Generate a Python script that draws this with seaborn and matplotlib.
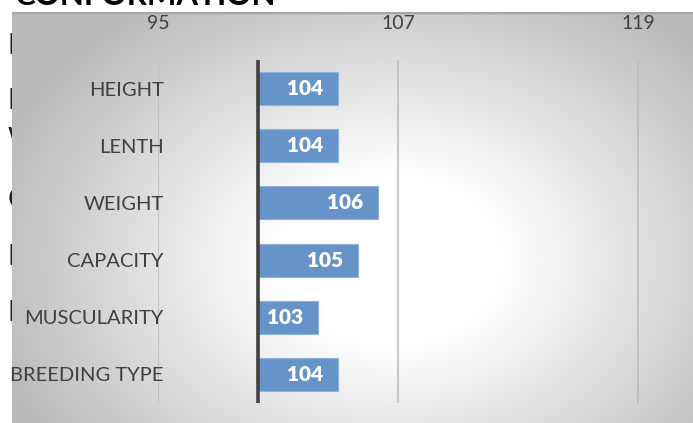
import numpy as np
import matplotlib
matplotlib.use("Agg")
import matplotlib.pyplot as plt
from matplotlib.ticker import FuncFormatter
import seaborn as sns

# data
categories = ["HEIGHT", "LENTH", "WEIGHT", "CAPACITY", "MUSCULARITY", "BREEDING TYPE"]
values = np.array([104, 104, 106, 105, 103, 104])
baseline = 100
ticks = [95, 107, 119]

sns.set_theme(style="white")
plt.rcParams["font.family"] = ["Lato", "DejaVu Sans"]

W, H = 693, 423
fig = plt.figure(figsize=(W / 100, H / 100), dpi=100)
fig.patch.set_facecolor("white")

# gradient panel behind the chart
bg = fig.add_axes([12 / W, 0, (W - 12) / W, (H - 12) / H], zorder=1)
xx, yy = np.meshgrid(np.arange(12, W), np.arange(12, H))
d = np.sqrt(((xx - 390) / 320.0) ** 2 + ((yy - 260) / 240.0) ** 2)
g = 1 - 0.27 * np.clip((d - 0.35) / 0.95, 0, 1)
bg.imshow(np.dstack([g, g, g]), aspect="auto", extent=[0, 1, 0, 1], interpolation="bilinear")
bg.axhline(1, color="#a6a6a6", lw=2.5)
bg.set_axis_off()

# cropped text behind the panel
fig.text(15 / W, (H - 5) / H, "CONFORMATION", fontsize=22.5, fontweight="bold",
         color="black", va="baseline", zorder=0.5)
for ch, ypx in zip(["B", "D", "W", "C", "B", "R"], [46, 101, 140, 200, 257, 313]):
    fig.text(8 / W, 1 - ypx / H, ch, fontsize=20, color="#222222",
             va="center", ha="left", zorder=0.5)

# main chart
ax = fig.add_axes([158 / W, (H - 403) / H, (W - 158) / W, 343 / H], zorder=2)
ax.patch.set_alpha(0)
diff = values - baseline
sns.barplot(x=diff, y=categories, orient="h", color="#6794c8", saturation=1,
            width=0.58, edgecolor="#8fb1da", linewidth=0.8, ax=ax, zorder=3)

ax.set_xlim(95 - baseline, 121.75 - baseline)
ax.set_ylim(5.5, -0.5)
ax.set_xticks([t - baseline for t in ticks])
ax.xaxis.set_major_formatter(FuncFormatter(lambda v, p: f"{v + baseline:.0f}"))
ax.xaxis.tick_top()
ax.tick_params(axis="x", length=0, pad=20, labelsize=14, labelcolor="#404040")
ax.tick_params(axis="y", length=0, pad=-4, labelsize=14.5, labelcolor="#404040")
ax.grid(axis="x", color="#bdbdbd", lw=1.2)
ax.set_axisbelow(True)
for s in ax.spines.values():
    s.set_visible(False)
ax.axvline(0, color="#404040", lw=2.6, zorder=4)
ax.set_xlabel("")
ax.set_ylabel("")

for i, v in enumerate(values):
    ax.text(v - baseline - 0.75, i, f"{v}", color="white", fontsize=15,
            fontweight="heavy", ha="right", va="center", zorder=5)

fig.savefig("out.png", dpi=100)
